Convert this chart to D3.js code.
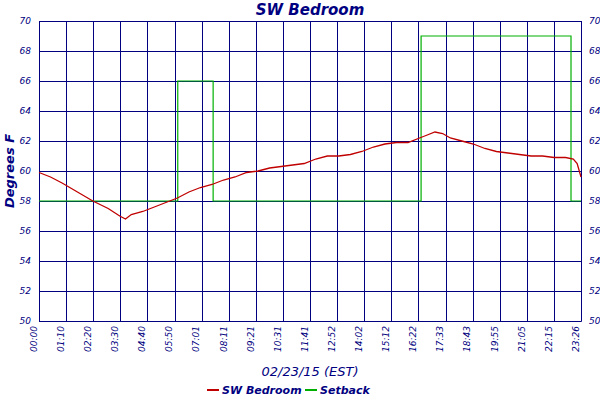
<!DOCTYPE html>
<html><head><meta charset="utf-8">
<script src="https://cdn.jsdelivr.net/npm/d3@7"></script>
<style>body{margin:0;background:#fff}text{font-family:"DejaVu Sans",sans-serif;font-style:italic;fill:#000080}</style>
</head><body><svg id="c" width="600" height="400"></svg>
<script>
const tickLabels=["00:00","01:10","02:20","03:30","04:40","05:50","07:01","08:11","09:21","10:31","11:41","12:52","14:02","15:12","16:22","17:33","18:43","19:55","21:05","22:15","23:26"];
const tickMinutes=tickLabels.map((s,i)=>i*70.5);
const yTicks=[50,52,54,56,58,60,62,64,66,68,70];
const tempTime=[0,30,60,100,140,180,210,225,240,270,300,330,360,390,420,450,480,510,540,570,600,630,660,690,720,750,780,810,840,870,900,930,960,990,1010,1030,1050,1070,1100,1130,1160,1190,1220,1250,1280,1310,1340,1370,1390,1400,1410];
const tempVal=[59.9,59.6,59.2,58.6,58.0,57.5,57.0,56.8,57.1,57.3,57.6,57.9,58.2,58.6,58.9,59.1,59.4,59.6,59.9,60.0,60.2,60.3,60.4,60.5,60.8,61.0,61.0,61.1,61.3,61.6,61.8,61.9,61.9,62.2,62.4,62.6,62.5,62.2,62.0,61.8,61.5,61.3,61.2,61.1,61.0,61.0,60.9,60.9,60.8,60.5,59.6];
const setTime=[0,361,361,453,453,994,994,1384,1384,1410];
const setVal=[58,58,66,66,58,58,69,69,58,58];

const svg=d3.select("#c");
const m={l:39,r:581,t:21,b:321};
const x=d3.scaleLinear().domain([0,1410]).range([m.l,m.r]);
const y=d3.scaleLinear().domain([50,70]).range([m.b,m.t]);
const navy="#000080";
const g=svg.append("g").attr("shape-rendering","crispEdges");
yTicks.forEach(v=>g.append("line").attr("x1",m.l).attr("x2",m.r).attr("y1",Math.round(y(v))+0.5).attr("y2",Math.round(y(v))+0.5).attr("stroke",navy).attr("stroke-width",1));
tickMinutes.forEach(v=>g.append("line").attr("x1",Math.round(x(v))+0.5).attr("x2",Math.round(x(v))+0.5).attr("y1",m.t).attr("y2",m.b).attr("stroke",navy).attr("stroke-width",1));
const la=svg.append("g").attr("transform",`translate(${m.l},0)`).call(d3.axisLeft(y).tickValues(yTicks).tickSize(0).tickPadding(8));
const ra=svg.append("g").attr("transform",`translate(${m.r},0)`).call(d3.axisRight(y).tickValues(yTicks).tickSize(0).tickPadding(8));
[la,ra].forEach(a=>{a.select(".domain").attr("stroke",navy);a.selectAll("text").attr("font-size",9).attr("fill",navy);});
const xa=svg.append("g").attr("transform",`translate(0,${m.b})`).call(d3.axisBottom(x).tickValues(tickMinutes).tickFormat((d,i)=>tickLabels[i]).tickSize(0));
xa.select(".domain").attr("stroke",navy);
xa.selectAll("text").attr("font-size",9).attr("fill",navy).attr("text-anchor","end").attr("transform","rotate(-90)").attr("dx","-5").attr("dy","-0.3em").attr("x",0).attr("y",0);
svg.append("path").datum(setTime.map((t,i)=>[t,setVal[i]])).attr("fill","none").attr("stroke","#00b000").attr("stroke-width",1.2)
 .attr("d",d3.line().x(d=>x(d[0])).y(d=>y(d[1])));
svg.append("path").datum(tempTime.map((t,i)=>[t,tempVal[i]])).attr("fill","none").attr("stroke","#c00000").attr("stroke-width",1.3)
 .attr("d",d3.line().x(d=>x(d[0])).y(d=>y(d[1])));
svg.append("text").attr("x",310).attr("y",15).attr("text-anchor","middle").attr("font-size",15).attr("font-weight","bold").text("SW Bedroom");
svg.append("text").attr("transform","translate(14,171) rotate(-90)").attr("text-anchor","middle").attr("font-size",13).attr("font-weight","bold").text("Degrees F");
svg.append("text").attr("x",310).attr("y",376).attr("text-anchor","middle").attr("font-size",13).text("02/23/15 (EST)");
const lg=svg.append("g").attr("transform","translate(207,390)");
lg.append("line").attr("x1",0).attr("x2",12).attr("stroke","#c00000").attr("stroke-width",2);
lg.append("text").attr("x",15).attr("y",4).attr("font-size",11).attr("font-weight","bold").text("SW Bedroom");
lg.append("line").attr("x1",98).attr("x2",110).attr("stroke","#00b000").attr("stroke-width",2);
lg.append("text").attr("x",113).attr("y",4).attr("font-size",11).attr("font-weight","bold").text("Setback");
</script></body></html>
